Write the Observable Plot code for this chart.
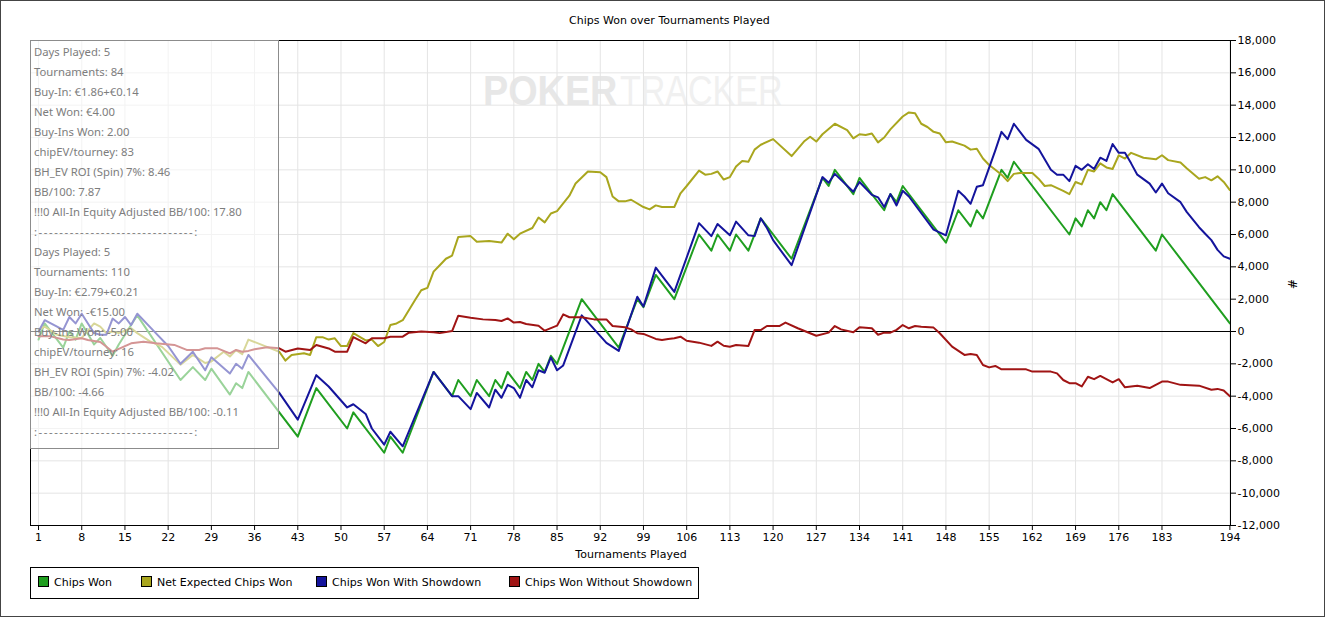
<!DOCTYPE html>
<html>
<head>
<meta charset="utf-8">
<script src="https://cdn.jsdelivr.net/npm/d3@7"></script>
<script src="https://cdn.jsdelivr.net/npm/@observablehq/plot@0.6"></script>
<style>
  html, body { margin: 0; padding: 0; background: #fff; }
  #wrap { position: relative; width: 1325px; height: 617px; overflow: hidden; font-family: "DejaVu Sans", sans-serif; font-size: 11px; color: #000; }
  #chart svg { position: absolute; left: 0; top: 0; }
  .frameall { position: absolute; left: 0; top: 0; width: 1323px; height: 615px; border: 1px solid #444; pointer-events: none; }
  #title { position: absolute; left: 569px; top: 14px; white-space: nowrap; }
  #xlabel { position: absolute; left: 0; width: 1262px; top: 548px; text-align: center; white-space: nowrap; }
  #ylabel { position: absolute; left: 1287px; top: 277px; transform: rotate(90deg); font-size: 12px; }
  #stats { position: absolute; left: 30px; top: 40px; width: 244px; height: 406px; border: 1px solid #8c8c8c; background: rgba(255,255,255,0.55); font-family: "Noto Sans", sans-serif; font-size: 11.3px; color: #7d7d7d; line-height: 20px; padding: 1px 0 0 3px; box-sizing: content-box; }
  #stats div { white-space: nowrap; height: 20px; }
  #stats div.sep { letter-spacing: 1.55px; }
  #legend { position: absolute; left: 30px; top: 567px; width: 667px; height: 30px; border: 1px solid #000; }
  .item { position: absolute; top: 8px; white-space: nowrap; line-height: 14px; }
  .sw { display: inline-block; width: 9px; height: 9px; border: 1px solid #000; vertical-align: -1px; margin-right: 5px; }
  #wrap #wm { position: absolute; left: 480px; top: 62px; overflow: visible; }
</style>
</head>
<body>
<div id="wrap">
  <svg id="wm" width="340" height="56">
    <text transform="translate(3,43) scale(0.9,1)" font-family="Liberation Sans, sans-serif" font-weight="bold" font-size="42" fill="#e7e7e7">POKER</text>
    <text transform="translate(140,43) scale(0.81,1)" font-family="Liberation Sans, sans-serif" font-size="42" fill="#f0f0f0">TRACKER</text>
  </svg>
  <div id="chart"></div>
  <div id="title">Chips Won over Tournaments Played</div>
  <div id="xlabel">Tournaments Played</div>
  <div id="ylabel">#</div>
  <div id="stats"></div>
  <div id="legend"></div>
  <div class="frameall"></div>
</div>
<script>
// ---- tick labels ----
const xTicks = [1, 8, 15, 22, 29, 36, 43, 50, 57, 64, 71, 78, 85, 92, 99, 106, 113, 120, 127, 134, 141, 148, 155, 162, 169, 176, 183, 194];
const yTicks = [-12000, -10000, -8000, -6000, -4000, -2000, 0, 2000, 4000, 6000, 8000, 10000, 12000, 14000, 16000, 18000];

// ---- series names & colours ----
const seriesNames = ["Chips Won", "Net Expected Chips Won", "Chips Won With Showdown", "Chips Won Without Showdown"];
const seriesColors = ["#1f9e1f", "#a9a61e", "#14149c", "#a01414"];

// ---- Chips Won (tournament, chips) ----
const greenT = [1,2,5,6,7,8,10,11,13,14,17,24,26,28,29,32,33,34,35,43,46,51,52,57,58,60,65,68,69,71,72,74,75,76,77,79,80,81,82,83,84,85,89,95,98,99,101,104,108,110,111,113,114,116,118,123,128,129,130,133,134,136,138,139,140,141,148,150,152,153,154,157,158,159,168,169,170,171,172,173,174,175,182,183,194];
const greenV = [-500,500,-1000,0,-500,500,-800,-400,-1500,-800,1000,-3000,-2200,-3000,-2300,-3900,-3200,-3500,-2500,-6500,-3500,-6000,-5000,-7500,-6500,-7500,-2500,-4000,-3000,-4000,-3000,-4000,-3000,-3500,-2500,-3500,-2500,-3000,-2000,-2500,-1500,-2000,2000,-1000,2000,1500,3500,2000,6000,5000,6000,5000,6000,5000,7000,4500,9500,9000,10000,8500,9500,8500,7500,8500,8000,9000,5500,7500,6500,7500,7000,10000,9500,10500,6000,7000,6500,7500,7000,8000,7500,8500,5000,6000,500];

// ---- Net Expected Chips Won ----
const yellowT = [1,2,4,6,8,10,11,12,13,14,16,17,19,21,24,26,28,29,31,32,33,34,35,38,40,41,42,44,45,46,47,48,49,50,51,52,54,55,56,57,58,59,60,62,63,64,65,66,67,68,69,71,72,74,76,77,78,79,81,82,83,84,85,87,88,90,92,93,94,95,96,97,99,100,101,102,104,105,106,108,109,110,111,112,113,114,115,116,117,118,120,123,125,126,127,128,130,132,133,134,135,136,137,138,139,141,142,143,144,145,146,147,148,149,151,152,153,154,155,156,157,158,159,160,162,163,164,165,167,168,169,170,171,172,173,174,175,176,177,178,180,182,183,184,186,187,189,190,191,192,193,194];
const yellowV = [100,300,-200,-350,-400,500,300,-100,0,-100,200,-100,-600,-950,-2050,-1450,-1950,-1850,-1250,-1550,-1150,-1400,-500,-950,-1250,-1800,-1450,-1350,-1450,-350,-350,-500,-420,-900,-900,-100,-550,-500,-900,-650,400,500,700,1950,2550,2700,3700,4100,4500,4700,5850,5900,5550,5600,5500,6050,5700,6050,6400,7050,6750,7300,7450,8400,9150,9900,9850,9550,8350,8050,8050,8150,7700,7550,7800,7700,7700,8550,9000,9950,9700,9750,9900,9400,9550,10200,10550,10500,11250,11550,11900,10850,11750,12050,11750,12200,12850,12450,11950,12200,12150,12250,11700,12000,12500,13300,13550,13500,12850,12650,12350,12250,11700,11750,11500,11250,11300,10700,10300,10000,9700,9300,9750,9800,9800,9450,9000,9050,8700,8500,9250,9100,10000,9900,10400,10150,10050,10900,10700,11050,10750,10650,10900,10600,10450,10100,9450,9550,9350,9600,9250,8750];

// ---- Chips Won With Showdown ----
const blueT = [1,2,4,5,6,7,8,9,10,11,12,13,14,15,16,17,20,22,24,26,28,29,32,33,34,35,40,43,46,48,51,52,54,55,57,58,60,65,68,69,71,72,74,75,76,77,78,79,80,81,82,83,84,85,86,89,93,95,98,99,101,104,108,110,111,113,114,116,117,118,119,120,123,128,129,130,133,134,136,137,138,139,140,141,142,146,148,150,151,152,153,154,156,157,158,159,161,163,165,166,167,168,169,170,171,172,173,174,175,176,177,178,179,181,182,183,184,186,187,189,190,191,192,193,194];
const blueV = [0,700,300,100,900,500,1100,500,-100,-200,-200,800,500,900,400,1100,-100,-900,-2000,-1250,-2400,-1600,-2600,-2000,-2300,-1450,-3800,-5450,-2700,-3400,-4700,-4500,-5100,-6000,-7000,-6200,-7100,-2500,-4000,-4000,-4800,-3800,-4700,-3600,-4100,-3300,-3500,-4100,-3000,-3450,-2400,-2550,-1600,-2400,-2100,1000,-700,-1200,2150,1550,3950,2450,6700,5900,6650,5950,6800,5950,5900,7000,6400,5650,4100,9550,9200,9750,8650,9250,8450,8300,7700,8500,7800,8700,8350,6300,5950,8700,8350,7900,8950,9050,11200,12350,11900,12850,11850,11300,10000,9700,9700,9300,10250,10000,10350,10050,10750,10550,11600,11050,11050,10400,9700,9150,8600,9150,8550,8000,7400,6450,6050,5650,5050,4650,4500];

// ---- Chips Won Without Showdown ----
const redT = [1,3,5,6,8,9,11,12,13,15,16,18,20,23,25,27,28,30,32,33,34,35,36,38,40,41,43,45,46,48,49,51,52,54,55,57,58,60,61,63,65,66,68,69,71,73,75,76,77,78,79,80,82,83,85,86,87,89,91,93,94,96,97,98,99,101,102,103,104,105,106,108,110,111,112,113,114,116,117,118,119,121,122,124,127,129,130,131,133,134,136,137,138,139,140,141,142,143,144,146,147,149,151,152,153,154,155,156,157,161,162,165,166,167,168,169,170,171,172,173,174,175,176,177,179,181,183,184,186,189,191,192,193,194];
const redV = [-300,-300,-500,-530,-420,-530,-650,-940,-1250,-900,-730,-630,-730,-830,-1140,-1140,-1040,-1040,-1350,-1140,-1250,-1200,-1100,-980,-1040,-1250,-1050,-1150,-830,-1050,-1250,-1250,-350,-730,-420,-420,-320,-320,-70,0,-50,-100,30,980,850,750,710,650,810,550,590,460,360,50,360,1060,880,880,750,750,340,260,130,-110,-150,-460,-530,-460,-420,-320,-570,-690,-890,-630,-880,-940,-840,-890,90,90,340,340,550,200,-260,-70,340,130,-50,260,200,-200,-70,-70,100,400,200,340,300,240,-110,-940,-1450,-1390,-1450,-2070,-2220,-2130,-2340,-2340,-2480,-2480,-2590,-3000,-3200,-3200,-3400,-2800,-2950,-2750,-2950,-3150,-2950,-3450,-3350,-3500,-3100,-3100,-3300,-3350,-3600,-3550,-3650,-4000];

// ---- stats box text ----
const statsLines = [
  "Days Played: 5", "Tournaments: 84", "Buy-In: €1.86+€0.14", "Net Won: €4.00", "Buy-Ins Won: 2.00",
  "chipEV/tourney: 83", "BH_EV ROI (Spin) 7%: 8.46", "BB/100: 7.87", "!!!0 All-In Equity Adjusted BB/100: 17.80",
  ":------------------------------:",
  "Days Played: 5", "Tournaments: 110", "Buy-In: €2.79+€0.21", "Net Won: -€15.00", "Buy-Ins Won: -5.00",
  "chipEV/tourney: 16", "BH_EV ROI (Spin) 7%: -4.02", "BB/100: -4.66", "!!!0 All-In Equity Adjusted BB/100: -0.11",
  ":------------------------------:"
];

// ---- build rows ----
const seriesT = [greenT, yellowT, blueT, redT];
const seriesV = [greenV, yellowV, blueV, redV];
const rows = [];
seriesNames.forEach((name, i) => {
  seriesT[i].forEach((t, j) => rows.push({series: name, t, v: seriesV[i][j]}));
});

const fmt = d => (d < 0 ? "-" : "") + d3.format(",")(Math.abs(d));

const chart = Plot.plot({
  width: 1325,
  height: 617,
  marginTop: 40,
  marginLeft: 30,
  marginRight: 95,
  marginBottom: 92,
  style: {fontFamily: "DejaVu Sans, sans-serif", fontSize: "11px", background: "transparent", color: "#000"},
  x: {domain: [-0.3, 194.1]},
  y: {domain: [-12000, 18000]},
  color: {domain: seriesNames, range: seriesColors},
  marks: [
    Plot.gridX(xTicks, {stroke: "#e4e4e4", strokeOpacity: 1}),
    Plot.gridY(yTicks, {stroke: "#e4e4e4", strokeOpacity: 1}),
    Plot.ruleY([0], {stroke: "#000", strokeWidth: 1}),
    Plot.line(rows, {x: "t", y: "v", z: "series", stroke: "series", strokeWidth: 2, curve: "linear"}),
    Plot.frame({stroke: "#000", strokeWidth: 1}),
    Plot.axisX(xTicks, {tickSize: 5, tickPadding: 3, tickFormat: d => String(d), label: null, fontSize: 11}),
    Plot.axisY(yTicks, {anchor: "right", tickSize: 5, tickPadding: 2, tickFormat: fmt, label: null, fontSize: 11, textAnchor: "start"})
  ]
});
document.getElementById("chart").appendChild(chart);

// stats box
const stats = document.getElementById("stats");
statsLines.forEach(s => {
  const d = document.createElement("div");
  d.textContent = s;
  if (s.startsWith(":-")) d.className = "sep";
  stats.appendChild(d);
});

// legend
const legend = document.getElementById("legend");
const legendX = [7, 110, 285, 478];
seriesNames.forEach((name, i) => {
  const it = document.createElement("div");
  it.className = "item";
  it.style.left = legendX[i] + "px";
  const sw = document.createElement("span");
  sw.className = "sw";
  sw.style.background = seriesColors[i];
  it.appendChild(sw);
  it.appendChild(document.createTextNode(name));
  legend.appendChild(it);
});
</script>
</body>
</html>
